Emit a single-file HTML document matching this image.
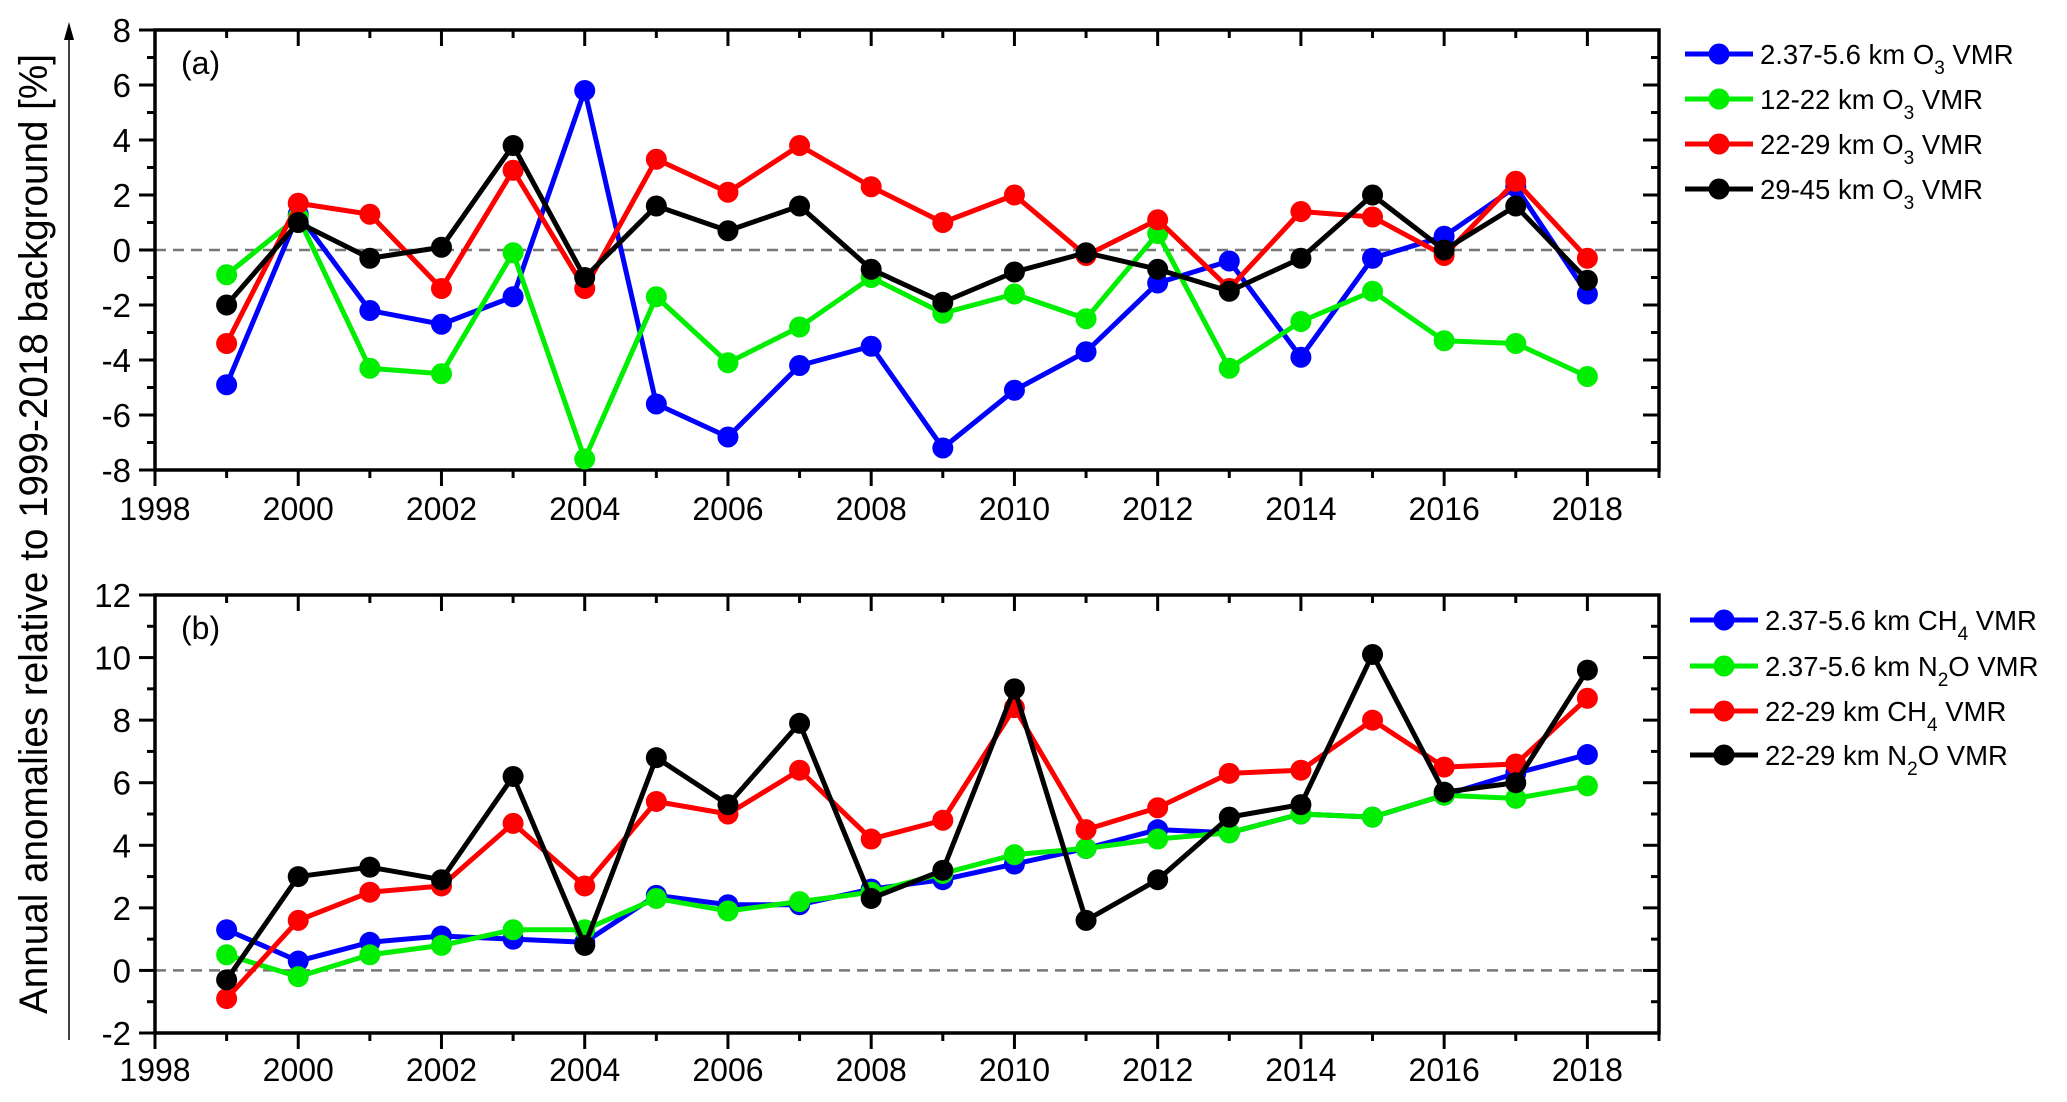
<!DOCTYPE html>
<html><head><meta charset="utf-8"><style>
html,body{margin:0;padding:0;background:#fff;}
svg{display:block;font-family:"Liberation Sans",Arial,sans-serif;}
</style></head><body>
<svg id="chart" width="2067" height="1102" viewBox="0 0 2067 1102" xmlns="http://www.w3.org/2000/svg">
<g id="root"></g>
</svg>
<script>
const years = [1999,2000,2001,2002,2003,2004,2005,2006,2007,2008,2009,2010,2011,2012,2013,2014,2015,2016,2017,2018];
const o3Low   = [-4.9,1.3,-2.2,-2.7,-1.7,5.8,-5.6,-6.8,-4.2,-3.5,-7.2,-5.1,-3.7,-1.2,-0.4,-3.9,-0.3,0.5,2.3,-1.6];
const o3Mid   = [-0.9,1.2,-4.3,-4.5,-0.1,-7.6,-1.7,-4.1,-2.8,-1.0,-2.3,-1.6,-2.5,0.6,-4.3,-2.6,-1.5,-3.3,-3.4,-4.6];
const o3Upper = [-3.4,1.7,1.3,-1.4,2.9,-1.4,3.3,2.1,3.8,2.3,1.0,2.0,-0.2,1.1,-1.4,1.4,1.2,-0.2,2.5,-0.3];
const o3Top   = [-2.0,1.0,-0.3,0.1,3.8,-1.0,1.6,0.7,1.6,-0.7,-1.9,-0.8,-0.1,-0.7,-1.5,-0.3,2.0,0.0,1.6,-1.1];
const ch4Low  = [1.3,0.3,0.9,1.1,1.0,0.9,2.4,2.1,2.1,2.6,2.9,3.4,3.9,4.5,4.4,5.0,4.9,5.6,6.3,6.9];
const n2oLow  = [0.5,-0.2,0.5,0.8,1.3,1.3,2.3,1.9,2.2,2.5,3.1,3.7,3.9,4.2,4.4,5.0,4.9,5.6,5.5,5.9];
const ch4Up   = [-0.9,1.6,2.5,2.7,4.7,2.7,5.4,5.0,6.4,4.2,4.8,8.4,4.5,5.2,6.3,6.4,8.0,6.5,6.6,8.7];
const n2oUp   = [-0.3,3.0,3.3,2.9,6.2,0.8,6.8,5.3,7.9,2.3,3.2,9.0,1.6,2.9,4.9,5.3,10.1,5.7,6.0,9.6];
const xTicks = [1998,2000,2002,2004,2006,2008,2010,2012,2014,2016,2018];
const yTicksA = [-8,-6,-4,-2,0,2,4,6,8];
const yTicksB = [-2,0,2,4,6,8,10,12];
const legendA = ["2.37-5.6 km O|3| VMR","12-22 km O|3| VMR","22-29 km O|3| VMR","29-45 km O|3| VMR"];
const legendB = ["2.37-5.6 km CH|4| VMR","2.37-5.6 km N|2|O VMR","22-29 km CH|4| VMR","22-29 km N|2|O VMR"];

const NS="http://www.w3.org/2000/svg";
const root=document.getElementById('root');
const colors=["#0000ff","#00ee00","#ff0000","#000000"];
const X0=155,X1=1659,XMIN=1998,XMAX=2019;
function xs(v){return X0+(v-XMIN)/(XMAX-XMIN)*(X1-X0);}
function mk(tag,attrs,parent){const e=document.createElementNS(NS,tag);for(const k in attrs)e.setAttribute(k,attrs[k]);(parent||root).appendChild(e);return e;}

function panel(id,top,bottom,ymin,ymax,yTicks,series,label,legend,legY,legX,xlabOff){
  const g=mk('g',{});
  
  
  const ys=v=>bottom-(v-ymin)/(ymax-ymin)*(bottom-top);
  const z=mk('line',{x1:X0,x2:X1,y1:ys(0),y2:ys(0),stroke:'#777','stroke-width':2.5,'stroke-dasharray':'11 7'},g);
  
  
  for(let yr=XMIN;yr<=XMAX;yr++){
    const major=yr%2===0, L=major?16:8, x=xs(yr);
    mk('line',{x1:x,x2:x,y1:bottom,y2:bottom+L,stroke:'#000','stroke-width':3},g);
    mk('line',{x1:x,x2:x,y1:top,y2:top+L,stroke:'#000','stroke-width':3},g);
  }
  xTicks.forEach(t=>{
    const tx=mk('text',{x:xs(t),y:bottom+xlabOff,'font-size':32,'text-anchor':'middle'},g);
    tx.textContent=t;
    
    
  });
  for(let v=ymin;v<=ymax;v++){
    const major=(v%2===0), L=major?16:8, y=ys(v);
    mk('line',{x1:X0-L,x2:X0,y1:y,y2:y,stroke:'#000','stroke-width':3},g);
    mk('line',{x1:X1-L,x2:X1,y1:y,y2:y,stroke:'#000','stroke-width':3},g);
  }
  yTicks.forEach(t=>{
    const tx=mk('text',{x:131,y:ys(t)+12,'font-size':33,'text-anchor':'end'},g);
    tx.textContent=t;
    
    
  });
  const fr=mk('rect',{x:X0,y:top,width:X1-X0,height:bottom-top,fill:'none',stroke:'#000','stroke-width':3.5},g);
  
  
  const lb=mk('text',{x:181,y:top+44,'font-size':32},g);
  lb.textContent=label;
  
  
  series.forEach((s,i)=>{
    const sg=mk('g',{},g);
    
    
    const pts=years.map((yr,j)=>xs(yr)+','+ys(s[j])).join(' ');
    const pl=mk('polyline',{points:pts,fill:'none',stroke:colors[i],'stroke-width':5,'stroke-linejoin':'round'},sg);
    
    
    years.forEach((yr,j)=>{
      const c=mk('circle',{cx:xs(yr),cy:ys(s[j]),r:10.5,fill:colors[i]},sg);
      
      
    });
  });
  legend.forEach((t,i)=>{
    const y=legY[i];
    const lg=mk('g',{},g);
    
    
    mk('line',{x1:legX,x2:legX+68,y1:y,y2:y,stroke:colors[i],'stroke-width':5},lg);
    mk('circle',{cx:legX+34,cy:y,r:10.5,fill:colors[i]},lg);
    const tx=mk('text',{x:legX+75,y:y+10,'font-size':27.5},lg);
    const parts=t.split('|');
    const a=mk('tspan',{},tx);a.textContent=parts[0];
    const b=mk('tspan',{dy:10,'font-size':19},tx);b.textContent=parts[1];
    const c=mk('tspan',{dy:-10},tx);c.textContent=parts[2];
  });
}
panel('a',30,470,-8,8,yTicksA,[o3Low,o3Mid,o3Upper,o3Top],'(a)',legendA,[54,99,144,189],1685,50);
panel('b',595,1033,-2,12,yTicksB,[ch4Low,n2oLow,ch4Up,n2oUp],'(b)',legendB,[620,666,711,755],1690,48);

const ax=mk('g',{});


mk('line',{x1:69,x2:69,y1:34,y2:1040,stroke:'#000','stroke-width':1.5},ax);
mk('polygon',{points:'69,22 64,40 74,40',fill:'#000'},ax);
const tt=mk('text',{x:0,y:0,'font-size':40,'text-anchor':'middle',transform:'translate(47,534) rotate(-90)',textLength:960,lengthAdjust:'spacingAndGlyphs'},ax);
tt.textContent='Annual anomalies relative to 1999-2018 background [%]';


</script>
</body></html>
